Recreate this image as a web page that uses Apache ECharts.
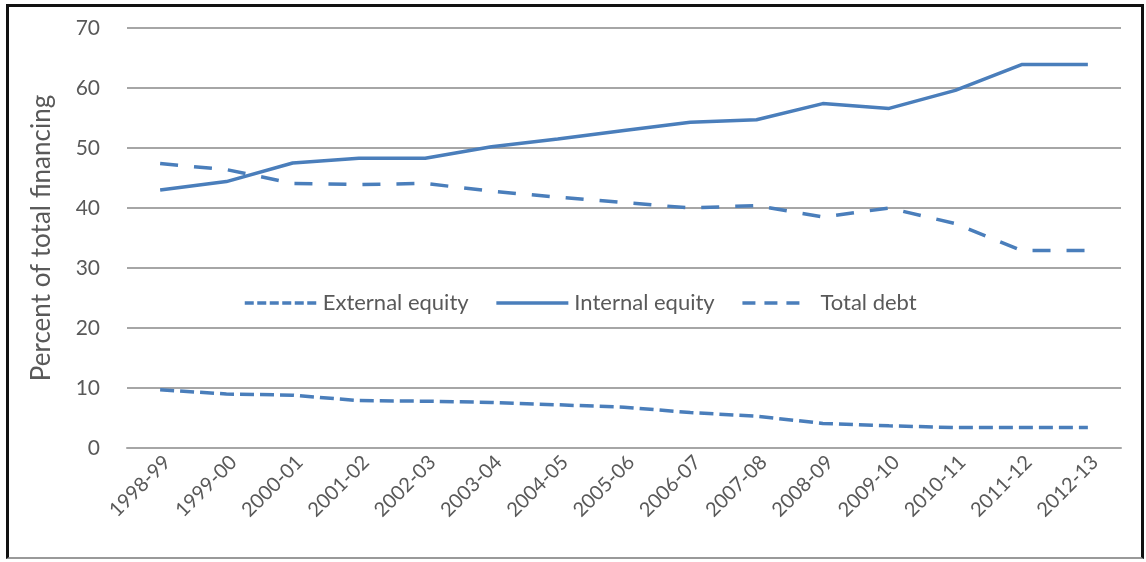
<!DOCTYPE html>
<html>
<head>
<meta charset="utf-8">
<script src="https://cdn.jsdelivr.net/npm/echarts@6/dist/echarts.min.js"></script>
<style>
  html, body { margin: 0; padding: 0; background: #fff; }
  #charts { position: absolute; left: 0; top: 0; width: 1146px; height: 562px; }
  #frame {
    position: absolute; left: 6px; top: 4px; width: 1132px; height: 550px;
    border: 3px solid #111; border-bottom: 2px solid #999; pointer-events: none;
  }
</style>
</head>
<body>
<div id="charts"></div>
<div id="frame"></div>
<script>
// fiscal years on the x axis
const years = ['1998-99', '1999-00', '2000-01', '2001-02', '2002-03', '2003-04', '2004-05', '2005-06',
    '2006-07', '2007-08', '2008-09', '2009-10', '2010-11', '2011-12', '2012-13'];

// percent of total financing
const externalEquity = [9.7, 9.0, 8.8, 7.9, 7.8, 7.6, 7.2, 6.8, 5.9, 5.3, 4.1, 3.7, 3.4, 3.4, 3.4];
const internalEquity = [43.0, 44.4, 47.5, 48.3, 48.3, 50.2, 51.5, 52.9, 54.3, 54.7, 57.4, 56.6, 59.6, 63.9, 63.9];
const totalDebt = [47.4, 46.4, 44.1, 43.9, 44.1, 42.8, 41.8, 40.9, 40.0, 40.4, 38.5, 40.0, 37.4, 32.9, 32.9];

const yTicks = [0, 70, 10]; // min, max, interval

const blue = '#4a7ebb';
const grey = '#595959';
const font = 'Lato, "Open Sans", sans-serif';

var chartDom = document.getElementById('charts');
var myChart = echarts.init(chartDom);

makeSeries = (name, data, dash) => {
    return {
        name: name,
        type: 'line',
        data: data,
        symbol: 'none',
        smooth: false,
        lineStyle: {
            color: blue,
            width: 3.5,
            type: dash,
            cap: 'butt'
        },
        itemStyle: {color: blue}
    };
}

// legend swatches use a shorter dash than the plotted lines
legendItem = (name, dash) => {
    return {
        name: name,
        lineStyle: {color: blue, width: 3.5, type: dash, cap: 'butt'}
    };
}

var option = {
    animation: false,
    grid: {
        left: 127,
        right: 25,
        top: 28,
        bottom: 114
    },
    legend: {
        left: 238,
        top: 287,
        itemWidth: 72,
        itemHeight: 14,
        itemGap: 26,
        itemStyle: {opacity: 0},
        textStyle: {
            fontFamily: font,
            fontSize: 22,
            color: grey,
            padding: [0, 0, 0, 1]
        },
        data: [
            legendItem('External equity', [9, 3.5]),
            legendItem('Internal equity', 'solid'),
            legendItem('Total debt', [13, 9, 13, 9, 13, 20])
        ]
    },
    xAxis: {
        type: 'category',
        data: years,
        boundaryGap: true,
        axisLine: {show: true, lineStyle: {color: '#a6a6a6', width: 2}},
        axisTick: {show: false},
        axisLabel: {
            rotate: 45,
            margin: 4,
            verticalAlign: 'top',
            fontFamily: font,
            fontSize: 20,
            color: grey
        }
    },
    yAxis: {
        type: 'value',
        min: yTicks[0],
        max: yTicks[1],
        interval: yTicks[2],
        name: 'Percent of total financing',
        nameLocation: 'middle',
        nameGap: 72,
        nameTextStyle: {
            fontFamily: font,
            fontSize: 26,
            color: grey
        },
        axisLine: {show: false},
        axisTick: {show: false},
        splitLine: {lineStyle: {color: '#a6a6a6', width: 2}},
        axisLabel: {
            margin: 27,
            fontFamily: font,
            fontSize: 21,
            color: grey
        }
    },
    series: [
        makeSeries('External equity', externalEquity, [14, 6]),
        makeSeries('Internal equity', internalEquity, 'solid'),
        makeSeries('Total debt', totalDebt, [18, 16])
    ]
};

myChart.setOption(option);
</script>
</body>
</html>
